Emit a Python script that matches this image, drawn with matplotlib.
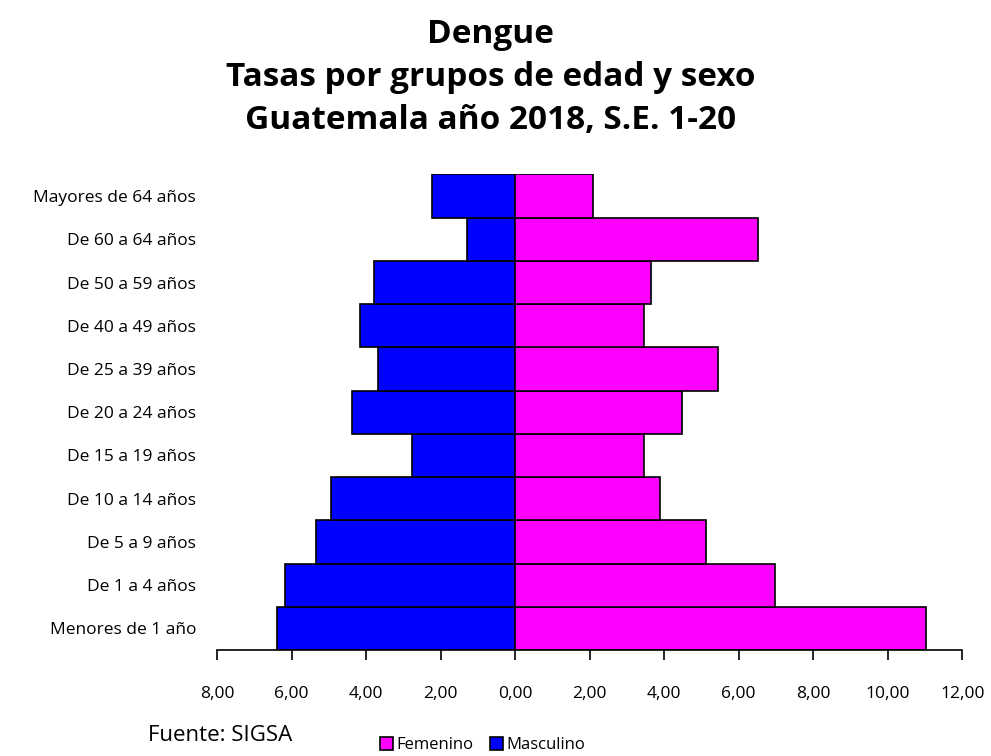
import numpy as np
import matplotlib.pyplot as plt
from matplotlib.ticker import FuncFormatter

# ----------------------------------------------------------------------
# Data (tasas por grupo de edad y sexo)
# ----------------------------------------------------------------------

grupos = [
    "Menores de 1 año", "De 1 a 4 años", "De 5 a 9 años", "De 10 a 14 años",
    "De 15 a 19 años", "De 20 a 24 años", "De 25 a 39 años", "De 40 a 49 años",
    "De 50 a 59 años", "De 60 a 64 años", "Mayores de 64 años",
]
masculino = [6.38, 6.18, 5.35, 4.93, 2.77, 4.39, 3.69, 4.15, 3.78, 1.30, 2.22]
femenino = [11.03, 6.97, 5.13, 3.88, 3.45, 4.48, 5.45, 3.45, 3.64, 6.51, 2.08]
x_ticks = [-8, -6, -4, -2, 0, 2, 4, 6, 8, 10, 12]

plt.rcParams["font.family"] = ["Open Sans", "DejaVu Sans"]

fig = plt.figure(figsize=(9.91, 7.56), dpi=100)
ax = fig.add_axes([0.219, 0.1402, 0.752, 0.629])

y = np.arange(len(grupos))
ax.barh(y, [-v for v in masculino], height=1.0, color="#0000FF",
        edgecolor="black", linewidth=1.2, label="Masculino")
ax.barh(y, femenino, height=1.0, color="#FF00FF",
        edgecolor="black", linewidth=1.2, label="Femenino")

ax.set_xlim(-8, 12)
ax.set_ylim(-0.5, len(grupos) - 0.5)
ax.set_xticks(x_ticks)
ax.xaxis.set_major_formatter(FuncFormatter(lambda v, _: f"{abs(v):.2f}".replace(".", ",")))
ax.set_yticks(y)
ax.set_yticklabels(grupos)

for side in ("top", "right", "left"):
    ax.spines[side].set_visible(False)
ax.spines["bottom"].set_linewidth(1.2)
ax.tick_params(axis="x", direction="out", length=7, width=1.2, pad=19, labelsize=12.5)
ax.tick_params(axis="y", length=0, pad=15, labelsize=12.5)

fig.text(0.495, 0.976, "Dengue\nTasas por grupos de edad y sexo\nGuatemala año 2018, S.E. 1-20",
         ha="center", va="top", fontsize=24, fontweight="bold", linespacing=1.4)

fig.text(0.149, 0.027, "Fuente: SIGSA", fontsize=16, ha="left", va="center")

handles, labels = ax.get_legend_handles_labels()
fig.legend(handles[::-1], labels[::-1], loc="center", bbox_to_anchor=(0.487, 0.014),
           ncol=2, frameon=False, fontsize=12, handlelength=0.8, handleheight=0.8,
           handletextpad=0.2, columnspacing=1.0, borderaxespad=0)

fig.savefig("out.png", dpi=100)
